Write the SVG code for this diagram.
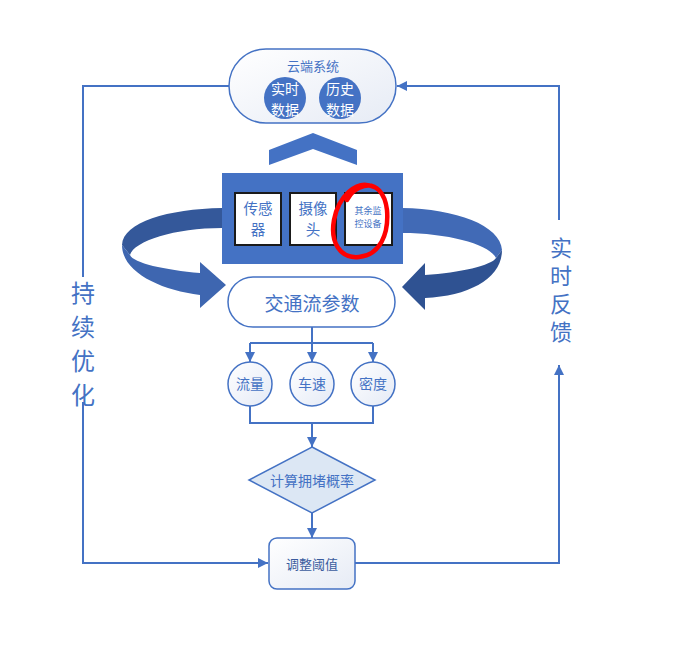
<svg xmlns="http://www.w3.org/2000/svg" width="673" height="646" viewBox="0 0 673 646">
<defs>
<linearGradient id="gPill" x1="0" y1="0" x2="1" y2="1">
<stop offset="0" stop-color="#ffffff"/><stop offset="1" stop-color="#e6ebf5"/>
</linearGradient>
<linearGradient id="gCirc" x1="0" y1="0" x2="1" y2="1">
<stop offset="0" stop-color="#ffffff"/><stop offset="1" stop-color="#e4eaf6"/>
</linearGradient>
<marker id="ah" markerUnits="userSpaceOnUse" markerWidth="10" markerHeight="10" refX="10" refY="5" orient="auto">
<path d="M0,0 L10,5 L0,10 z" fill="#4472C4"/>
</marker>
<style>
.ln{fill:none;stroke:#4472C4;stroke-width:2}
.nd{stroke:#4472C4;stroke-width:1.5}
.t{font-family:"Noto Sans CJK SC","Noto Sans",sans-serif;fill:#4472C4;text-anchor:middle;dominant-baseline:central}
.v{font-family:"Noto Sans CJK SC","Noto Sans",sans-serif;fill:#4472C4;text-anchor:middle;writing-mode:vertical-rl}
.w{fill:#ffffff}
.box{fill:#ffffff;stroke:#1a1a1a;stroke-width:2}
</style>
</defs>

<g id="connectors">
<path class="ln" d="M230,86 H83 V277"/>
<path class="ln" d="M83,402 V563 H268" marker-end="url(#ah)"/>
<path class="ln" d="M355,563 H559 V365" marker-end="url(#ah)"/>
<path class="ln" d="M559,220 V86 H397" marker-end="url(#ah)"/>
<path class="ln" d="M312,327 V343 M250,343 H373"/>
<path class="ln" d="M250,343 V362" marker-end="url(#ah)"/>
<path class="ln" d="M312,343 V362" marker-end="url(#ah)"/>
<path class="ln" d="M373,343 V362" marker-end="url(#ah)"/>
<path class="ln" d="M250,406 V423 H373 V406"/>
<path class="ln" d="M312,423 V447" marker-end="url(#ah)"/>
<path class="ln" d="M312,513 V538" marker-end="url(#ah)"/>
</g>

<g id="cloud">
<rect class="nd" x="229" y="49" width="167" height="74" rx="37" fill="url(#gPill)"/>
<text class="t" x="313" y="65" font-size="13">云端系统</text>
<circle cx="285" cy="98" r="21" fill="#4472C4"/>
<text class="t w" font-size="14"><tspan x="285" y="88">实时</tspan><tspan x="285" y="108.5">数据</tspan></text>
<circle cx="340" cy="98" r="21" fill="#4472C4"/>
<text class="t w" font-size="14"><tspan x="340" y="88">历史</tspan><tspan x="340" y="108.5">数据</tspan></text>
</g>

<g id="chevron">
<polygon points="269,150 313,133 357,150 357,165 313,149 269,165" fill="#4472C4"/>
</g>

<g id="curve-left">
<path d="M222,208 C168,209 123,222 122,245 L130,255 C134,241 175,228 222,228 Z" fill="#34589A"/>
<path d="M122,245 C122,272 160,290 200,295 L200,308 L226,285 L200,262 L200,273 C165,270 133,263 130,255 Z" fill="#3E66B0"/>
</g>
<g id="curve-right">
<path d="M402,208 C456,209 500,225 502,250 L496,258 C490,245 450,233 402,233 Z" fill="#416AB6"/>
<path d="M502,250 C502,278 470,296 425,298 L425,310 L402,287 L425,263 L425,275 C460,273 492,265 496,258 Z" fill="#2F5292"/>
</g>

<g id="devices">
<rect x="222" y="173" width="181" height="91" fill="#4472C4"/>
<g id="sensor">
<rect class="box" x="235" y="193" width="46" height="52"/>
<text class="t" font-size="14.5"><tspan x="258" y="206.5">传感</tspan><tspan x="258" y="227.8">器</tspan></text>
</g>
<g id="camera">
<rect class="box" x="290" y="193" width="46" height="52"/>
<text class="t" font-size="14.5"><tspan x="313" y="206.5">摄像</tspan><tspan x="313" y="227.8">头</tspan></text>
</g>
<g id="other">
<rect class="box" x="345" y="193" width="47" height="52"/>
<text class="t" font-size="9"><tspan x="368" y="209.5">其余监</tspan><tspan x="368" y="223">控设备</tspan></text>
</g>
<path d="M374,187 C356,178 338,198 334,220 C330,242 340,259 359,257 C380,255 389,234 387,210 C385,193 376,183 364,186 C356,188 350,194 347,200" fill="none" stroke="#ff0000" stroke-width="4.5" stroke-linecap="round"/>
</g>

<g id="traffic">
<rect class="nd" x="228" y="277" width="167" height="50" rx="25" fill="#ffffff"/>
<text class="t" x="312" y="302" font-size="19">交通流参数</text>
</g>

<g id="flow">
<circle class="nd" cx="250" cy="384" r="22" fill="url(#gCirc)"/>
<text class="t" x="250" y="383" font-size="14">流量</text>
</g>
<g id="speed">
<circle class="nd" cx="312" cy="384" r="22" fill="url(#gCirc)"/>
<text class="t" x="312" y="383" font-size="14">车速</text>
</g>
<g id="density">
<circle class="nd" cx="373" cy="384" r="22" fill="url(#gCirc)"/>
<text class="t" x="373" y="383" font-size="14">密度</text>
</g>

<g id="calc">
<polygon class="nd" points="312,447 375,480 312,513 249,480" fill="#DCE7F4"/>
<text class="t" x="312" y="480" font-size="14">计算拥堵概率</text>
</g>

<g id="adjust">
<rect class="nd" x="269" y="538" width="86" height="51" rx="8" fill="url(#gPill)"/>
<text class="t" x="312" y="563" font-size="13" style="fill:#3B5C9E">调整阈值</text>
</g>

<g id="label-left">
<text class="v" x="83" y="349" font-size="24" letter-spacing="10">持续优化</text>
</g>
<g id="label-right">
<text class="v" x="561" y="293" font-size="22" letter-spacing="6">实时反馈</text>
</g>
</svg>
